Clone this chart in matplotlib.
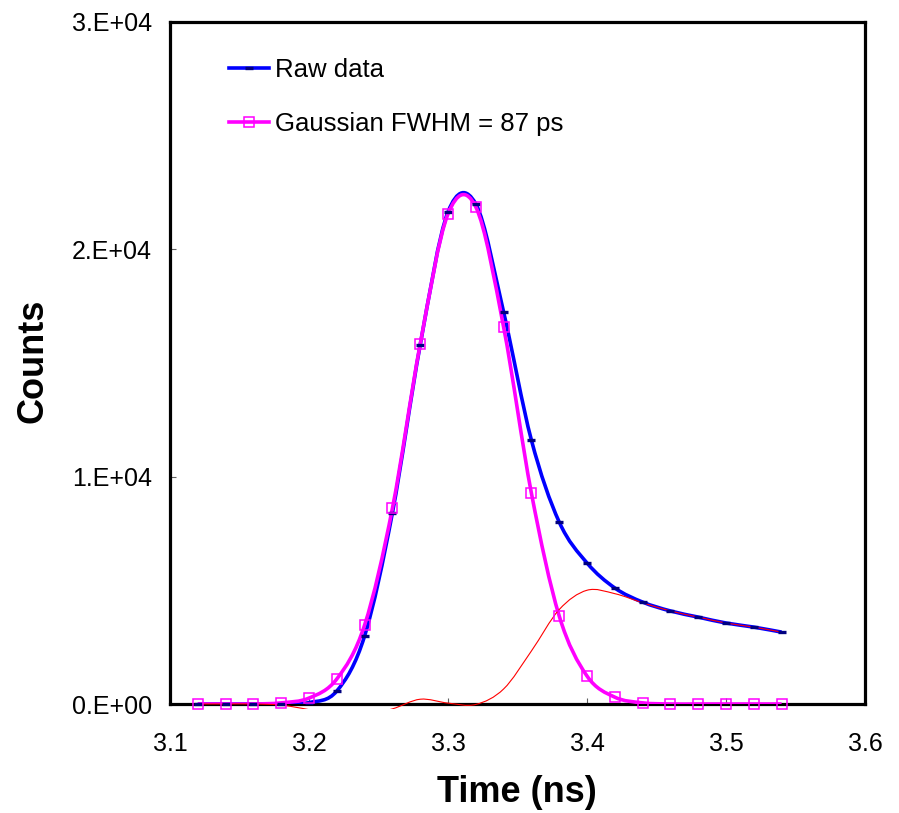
import numpy as np
import matplotlib
matplotlib.use("Agg")
import matplotlib.pyplot as plt
from matplotlib.path import Path
from matplotlib.patches import PathPatch, Rectangle
from matplotlib.lines import Line2D
from matplotlib.ticker import FuncFormatter

plt.rcParams['font.family'] = ['Liberation Sans', 'DejaVu Sans']

# time axis (ns), one point every 20 ps
time_ns = [3.12, 3.14, 3.16, 3.18, 3.20, 3.22, 3.24, 3.26, 3.28, 3.30, 3.32,
           3.34, 3.36, 3.38, 3.40, 3.42, 3.44, 3.46, 3.48, 3.50, 3.52, 3.54]
raw_counts = [0, 0, 0, 0, 60, 570, 2990, 8400, 15780, 21630, 21980,
              17230, 11600, 8000, 6200, 5100, 4480, 4090, 3820, 3560, 3380, 3160]
gauss_counts = [0, 0, 0, 50, 260, 1100, 3470, 8600, 15820, 21540, 21850,
                16570, 9270, 3870, 1230, 300, 50, 0, 0, 0, 0, 0]
residual = [0, 0, 0, -50, -250, -530, -480, -215, 210, 40, -20,
            660, 2330, 4150, 5000, 4850, 4450, 4090, 3820, 3560, 3380, 3160]


def smooth_path(x, y):
    # Excel style smoothed line: cubic bezier through every point
    x = np.asarray(x, float)
    y = np.asarray(y, float)
    n = len(x)
    verts = [(x[0], y[0])]
    codes = [Path.MOVETO]
    for i in range(n - 1):
        a = max(i - 1, 0)
        d = min(i + 2, n - 1)
        c1 = (x[i] + (x[i + 1] - x[a]) / 6, y[i] + (y[i + 1] - y[a]) / 6)
        c2 = (x[i + 1] - (x[d] - x[i]) / 6, y[i + 1] - (y[d] - y[i]) / 6)
        verts += [c1, c2, (x[i + 1], y[i + 1])]
        codes += [Path.CURVE4] * 3
    return Path(verts, codes)


fig = plt.figure(figsize=(8.99, 8.13), dpi=100)
ax = fig.add_axes([170 / 899, 1 - 704 / 813, 695 / 899, 682.5 / 813])
ax.set_xlim(3.1, 3.6)
ax.set_ylim(0, 30000)

blue = PathPatch(smooth_path(time_ns, raw_counts), fill=False, edgecolor='#0000FF',
                 lw=2.6, zorder=3, transform=ax.transData)
ax.add_patch(blue)
magenta = PathPatch(smooth_path(time_ns, gauss_counts), fill=False, edgecolor='#FF00FF',
                    lw=2.6, zorder=3.1, transform=ax.transData)
ax.add_patch(magenta)
red = PathPatch(smooth_path(time_ns, residual), fill=False, edgecolor='#FF0000',
                lw=0.8, zorder=3.2, transform=ax.transData)
ax.add_patch(red)
clip = Rectangle((0, -0.008), 1, 1.008, transform=ax.transAxes, fill=False, visible=False)
ax.add_patch(clip)
red.set_clip_path(clip)

ax.plot(time_ns, raw_counts, ls='none', marker='_', ms=6, mew=2.4, color='#000080',
        zorder=4, clip_on=False)
ax.plot(time_ns, gauss_counts, ls='none', marker='s', ms=6.5, mew=1.1, mfc='none',
        mec='#FF00FF', zorder=4.1, clip_on=False)

for s in ax.spines.values():
    s.set_linewidth(2.3)
    s.set_color('black')

ax.set_xticks([3.1, 3.2, 3.3, 3.4, 3.5, 3.6])
ax.set_yticks([0, 10000, 20000, 30000])
ax.yaxis.set_major_formatter(FuncFormatter(lambda v, p: '%d.E+%02d' % (v / 1e4, 4) if v else '0.E+00'))
ax.xaxis.set_major_formatter(FuncFormatter(lambda v, p: '%.1f' % v))
ax.tick_params(axis='both', direction='in', length=4, width=0.8, color='#606060',
               labelsize=18)
ax.tick_params(axis='x', pad=20)
ax.tick_params(axis='y', pad=13)

handles = [
    Line2D([], [], color='#0000FF', lw=2.6, marker='_', ms=6, mew=2.4, mec='#000080'),
    Line2D([], [], color='#FF00FF', lw=2.6, marker='s', ms=6.5, mew=1.1, mfc='none', mec='#FF00FF'),
]
ax.legend(handles, ['Raw data', 'Gaussian FWHM = 87 ps'], loc='upper left',
          bbox_to_anchor=(0.085, 0.9466), frameon=False, fontsize=18.5,
          handlelength=1.55, handletextpad=0.25, labelspacing=1.18,
          borderpad=0, borderaxespad=0)

fig.text(517 / 899, 1 - 792 / 813, 'Time (ns)', ha='center', va='center',
         fontsize=26, fontweight='bold')
fig.text(33 / 899, 1 - 361 / 813, 'Counts', ha='center', va='center',
         rotation=90, fontsize=26, fontweight='bold')

fig.savefig('out.png', dpi=100)
